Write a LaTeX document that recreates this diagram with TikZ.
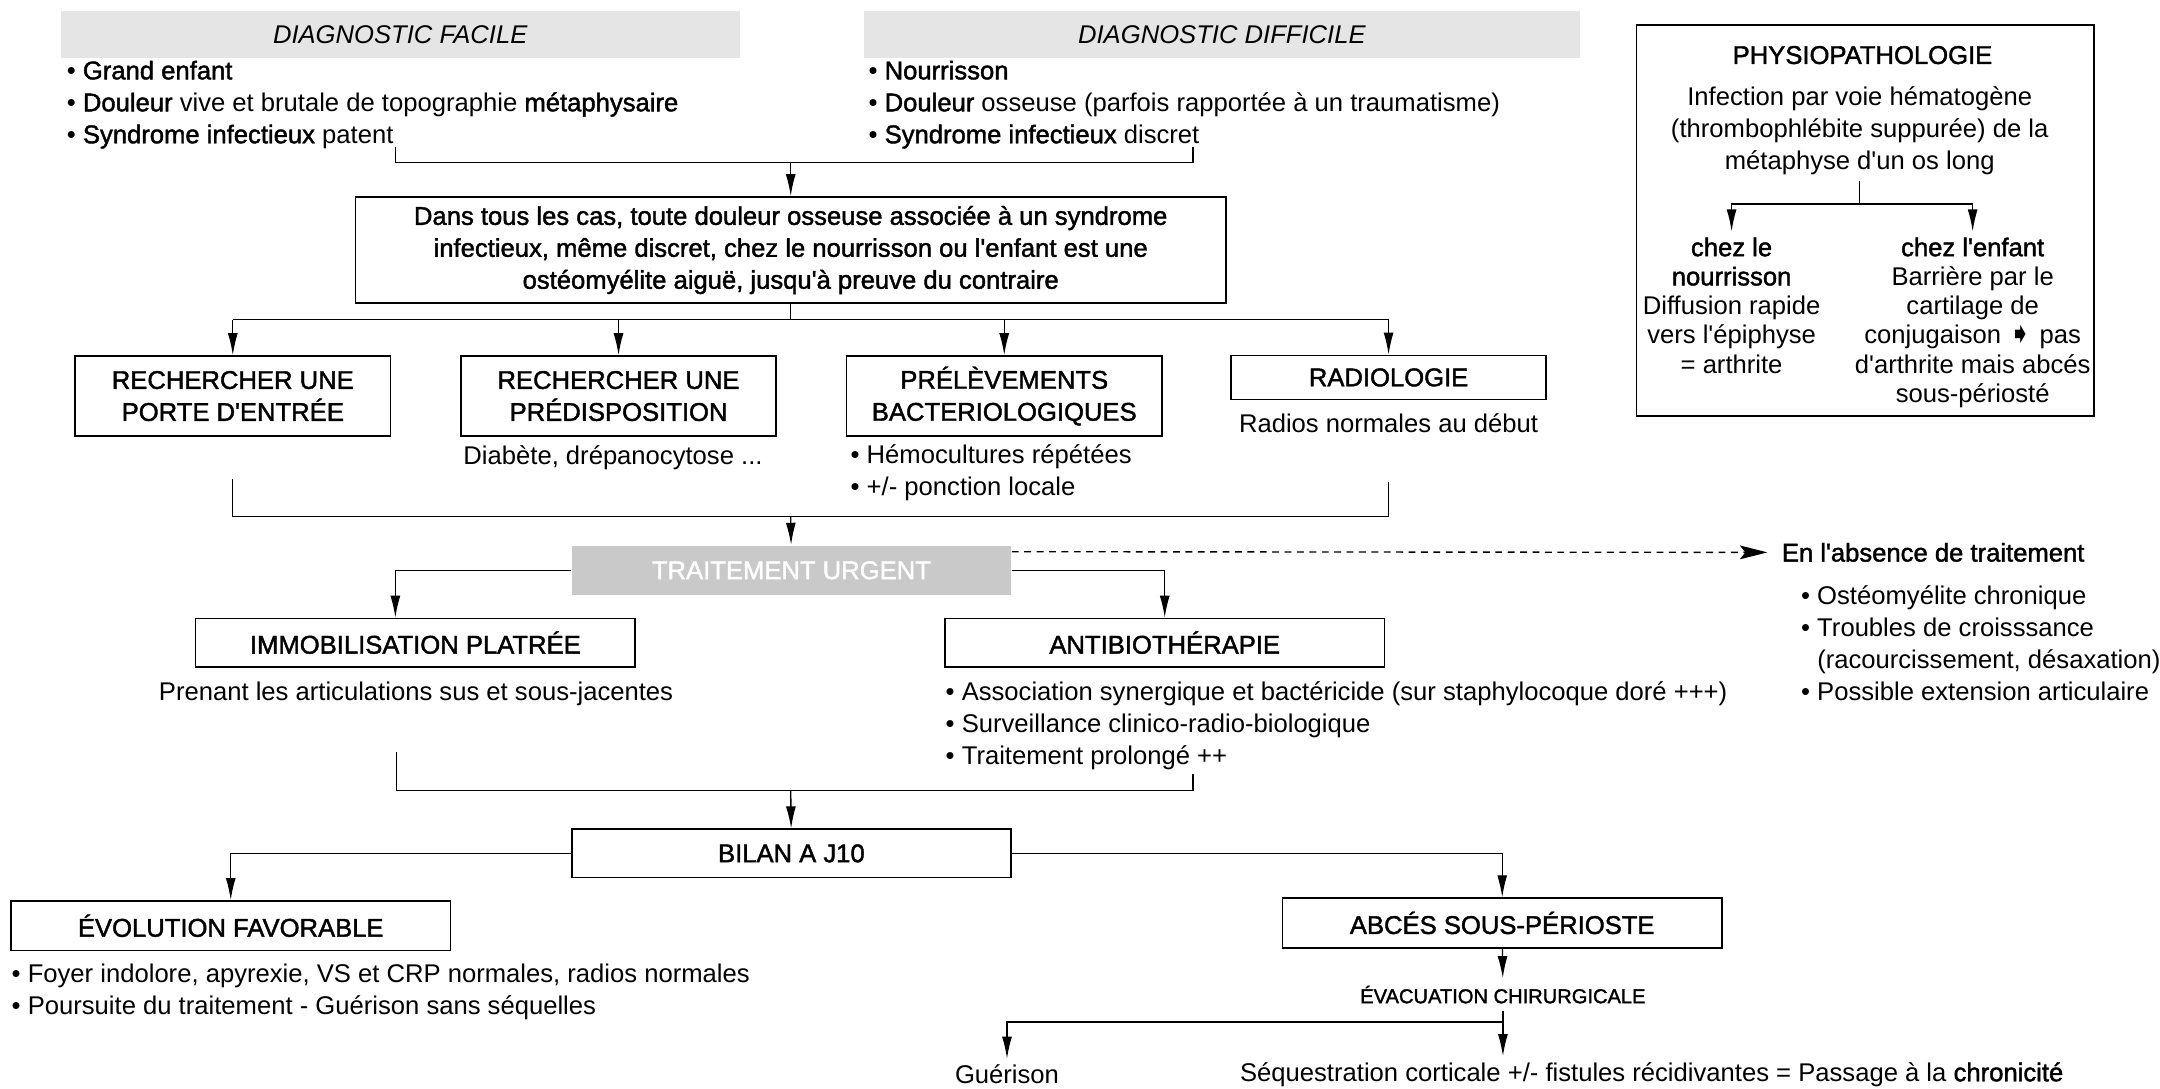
\documentclass[tikz,border=0pt]{standalone}
\usepackage{fontspec}
\setmainfont{Liberation Sans}[Ligatures=TeXOff,BoldFont={Liberation Sans},BoldFeatures={FakeBold=1.6}]
\newfontfamily\symfont{DejaVu Sans}
\usetikzlibrary{arrows.meta}
\newcommand{\txtsize}{\fontsize{9.3}{11.6}\selectfont}

\begin{document}
\begin{tikzpicture}[x=0.5pt,y=-0.5pt,->,>={Latex[length=8pt,width=3.6pt]},line width=0.5pt]
  \tikzstyle{every node}=[font=\txtsize,inner sep=0pt]
  \tikzstyle{titlebox}=[fill=black!10,minimum height=17pt,font=\txtsize\itshape]
  \tikzstyle{box}=[draw,line width=0.6pt,align=center,minimum width=159.5pt,minimum height=17.5pt,font=\txtsize\bfseries]
  \tikzstyle{smallbox}=[box,minimum width=114.5pt,minimum height=29pt]
  \tikzstyle{list}=[anchor=west,align=left]
  \tikzstyle{column}=[anchor=north,align=center,inner sep=2pt,font=\fontsize{9.3}{10.6}\selectfont]
  \useasboundingbox (0,0) rectangle (1568,790);

% diagnostic
\node [titlebox,minimum width=246.5pt] (facile) at (290.5,25) {DIAGNOSTIC FACILE};
\node [titlebox,minimum width=260pt] (difficile) at (887,25) {DIAGNOSTIC DIFFICILE};
\node [list] (facileL) at (48,76) {• \textbf{Grand enfant}\\• \textbf{Douleur} vive et brutale de topographie \textbf{métaphysaire}\\• \textbf{Syndrome infectieux} patent};
\node [list] (difficileL) at (630,76) {• \textbf{Nourrisson}\\• \textbf{Douleur} osseuse (parfois rapportée à un traumatisme)\\• \textbf{Syndrome infectieux} discret};
\node [box,minimum width=316pt,minimum height=38.5pt] (main) at (574,181.5) {Dans tous les cas, toute douleur osseuse associée à un syndrome\\infectieux, même discret, chez le nourrisson ou l'enfant est une\\ostéomyélite aiguë, jusqu'à preuve du contraire};

\coordinate (jF) at (287,107);
\coordinate (jD) at (866,107);
\coordinate (j1) at (574,118);
\draw [-] (jF) |- (j1) -| (jD);
\draw (j1) -- (main);

% bilan initial
\node [smallbox] (porte) at (169,287.5) {RECHERCHER UNE\\PORTE D'ENTRÉE};
\node [smallbox] (predispo) at (449,287.5) {RECHERCHER UNE\\PRÉDISPOSITION};
\node [smallbox] (prelev) at (729,287.5) {PRÉLÈVEMENTS\\BACTERIOLOGIQUES};
\node [smallbox,minimum height=16pt] (radio) at (1008,274) {RADIOLOGIE};
\node (predispoT) at (445,332) {Diabète, drépanocytose ...};
\node [list] (prelevL) at (617,343) {• Hémocultures répétées\\• +/- ponction locale};
\node (radioT) at (1008,307) {Radios normales au début};

\coordinate (j2) at (574,232);
\draw [-] (main) -- (j2);
\draw [-] (porte.north |- j2) -- (radio.north |- j2);
\foreach \n in {porte,predispo,prelev,radio}
  \draw (\n.north |- j2) -- (\n);

\coordinate (k1) at (169,348);
\coordinate (k2) at (1008,350);
\coordinate (j3) at (574,375);
\draw [-] (k1) |- (j3) -| (k2);

% traitement
\node [fill=black!21,text=white,font=\txtsize\bfseries,minimum width=159.5pt,minimum height=18pt] (urgent) at (574.5,414) {TRAITEMENT URGENT};
\draw (j3) -- (urgent);
\node [anchor=west,font=\txtsize\bfseries] (absence) at (1293,401) {En l'absence de traitement};
\node [list] (absenceL) at (1307,467) {• Ostéomyélite chronique\\• Troubles de croisssance\\\phantom{• }(racourcissement, désaxation)\\• Possible extension articulaire};
\draw [dash pattern=on 2.5pt off 2pt,-{Stealth[length=10pt,width=5pt,inset=2pt]}] ([yshift=-2.5pt]urgent.north east) -- ([xshift=-5pt]absence.west);

\node [box] (immob) at (301.5,466.5) {IMMOBILISATION PLATRÉE};
\node [box] (antibio) at (845.5,466.5) {ANTIBIOTHÉRAPIE};
\draw (urgent.west) -| ([xshift=-7.25pt]immob.north);
\draw (urgent.east) -| (antibio);
\node (prenantT) at (302,504) {Prenant les articulations sus et sous-jacentes};
\node [list] (antibioL) at (686,527) {• Association synergique et bactéricide (sur staphylocoque doré +++)\\• Surveillance clinico-radio-biologique\\• Traitement prolongé ++};

\coordinate (m1) at (288,546);
\coordinate (m2) at (866,562);
\coordinate (j4) at (574,574);
\draw [-] (m1) |- (j4) -| (m2);

% evolution
\node [box] (bilan) at (574.5,619.5) {BILAN A J10};
\draw (j4) -- (bilan);
\node [box,minimum height=18pt] (evol) at (167.5,672) {ÉVOLUTION FAVORABLE};
\node [box,minimum height=18pt] (abces) at (1090.5,670) {ABCÉS SOUS-PÉRIOSTE};
\draw (bilan.west) -| (evol);
\draw (bilan.east) -| (abces);
\node [list] (evolL) at (8,720) {• Foyer indolore, apyrexie, VS et CRP normales, radios normales\\• Poursuite du traitement - Guérison sans séquelles};
\node [font=\fontsize{7.3}{8}\selectfont\bfseries,inner sep=2.5pt] (evac) at (1091,722) {ÉVACUATION CHIRURGICALE};
\draw (abces) -- (evac);

\coordinate (j5) at (1091,742);
\node [inner sep=2pt] (gueri) at (731,780) {Guérison};
\node [inner sep=2pt] (seq) at (1199,780) {Séquestration corticale +/- fistules récidivantes = Passage à la \textbf{chronicité}};
\draw [-] (evac) -- (j5);
\draw (j5) -| (gueri);
\draw (j5) -- (j5 |- seq.north);

% physiopathologie
\node [draw,line width=0.6pt,minimum width=166pt,minimum height=142pt] (physio) at (1354,160) {};
\node [font=\txtsize\bfseries] (physioT) at (1352,40) {PHYSIOPATHOLOGIE};
\node [align=center,inner sep=2pt] (physioI) at (1350,95) {Infection par voie hématogène\\(thrombophlébite suppurée) de la\\métaphyse d'un os long};
\coordinate (p1) at (1350,148);
\node [column] (nour) at (1257,168) {\textbf{chez le}\\\textbf{nourrisson}\\Diffusion rapide\\vers l'épiphyse\\= arthrite};
\node [column] (enf) at (1432,168) {\textbf{chez l'enfant}\\Barrière par le\\cartilage de\\conjugaison {\symfont\fontsize{10.5}{10.6}\selectfont ➧} pas\\d'arthrite mais abcés\\sous-périosté};
\draw [-] (physioI) -- (p1);
\draw (p1) -| (nour);
\draw (p1) -| (enf);

\end{tikzpicture}
\end{document}
